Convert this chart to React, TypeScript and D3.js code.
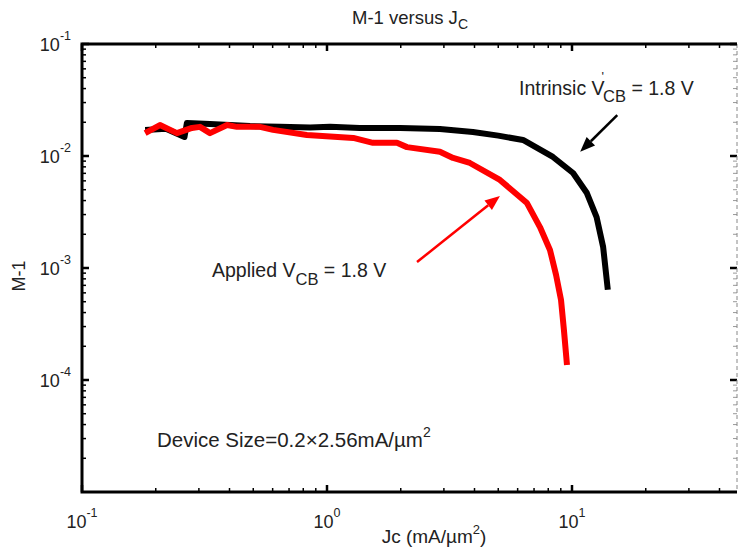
import React from "react";
import * as d3 from "d3";

// Intrinsic V'CB = 1.8 V : collector current density (mA/µm²) and M-1
const intrinsicJc = [0.181, 0.22, 0.262, 0.268, 0.333, 0.485, 0.643, 0.853, 1.03, 1.36, 1.99, 2.89, 3.94, 5.0, 6.31, 8.36, 10.1, 11.5, 12.6, 13.4, 14.0];
const intrinsicM = [0.0171, 0.0175, 0.0148, 0.0197, 0.0193, 0.0185, 0.0182, 0.018, 0.0182, 0.0178, 0.0178, 0.0174, 0.0164, 0.0152, 0.0139, 0.0098, 0.00705, 0.00467, 0.00285, 0.00154, 0.00064];

// Applied VCB = 1.8 V
const appliedJc = [0.181, 0.208, 0.244, 0.281, 0.303, 0.333, 0.391, 0.429, 0.533, 0.602, 0.828, 1.28, 1.54, 1.93, 2.12, 2.89, 3.27, 3.83, 5.08, 6.55, 7.4, 8.13, 8.61, 9.02, 9.27, 9.54];
const appliedM = [0.016, 0.0189, 0.016, 0.0178, 0.0182, 0.016, 0.0189, 0.0182, 0.0182, 0.0171, 0.0154, 0.0145, 0.0131, 0.0131, 0.012, 0.0109, 0.0096, 0.00866, 0.00611, 0.0038, 0.00232, 0.00145, 0.000866, 0.000518, 0.000279, 0.000136];

// axis decades (exponents of ten)
const xDecades = [-1, 0, 1];
const yDecades = [-1, -2, -3, -4];

// annotation arrows: [tailJc, tailM, headJc, headM]
const intrinsicArrow = [15.3, 0.0232, 10.8, 0.0109];
const appliedArrow = [2.33, 0.00113, 5.08, 0.0044];

const W = 738;
const H = 548;
const left = 82;
const right = 737;
const top = 44;
const bottom = 492;

const x = d3.scaleLog().domain([0.1, Math.pow(10, -1 + (right - left) / 245)]).range([left, right]);
const y = d3.scaleLog().domain([1e-5, 1e-1]).range([bottom, top]);

const font = "'Liberation Sans', Arial, sans-serif";

function minorTicks(domain: number[]) {
  const out: number[] = [];
  for (let k = -6; k <= 3; k++) {
    for (let m = 2; m <= 9; m++) {
      const v = m * Math.pow(10, k);
      if (v > domain[0] && v < domain[1]) out.push(v);
    }
  }
  return out;
}

function Arrow({ a, color }: { a: number[]; color: string }) {
  const x1 = x(a[0]), y1 = y(a[1]), x2 = x(a[2]), y2 = y(a[3]);
  const ang = Math.atan2(y2 - y1, x2 - x1);
  const len = 15, half = 6;
  const bx = x2 - len * Math.cos(ang), by = y2 - len * Math.sin(ang);
  const px = -Math.sin(ang) * half, py = Math.cos(ang) * half;
  return (
    <g>
      <line x1={x1} y1={y1} x2={bx} y2={by} stroke={color} strokeWidth={2.5} />
      <path d={`M${x2},${y2}L${bx + px},${by + py}L${bx - px},${by - py}Z`} fill={color} />
    </g>
  );
}

export default function App() {
  const line = d3
    .line<[number, number]>()
    .x((d) => x(d[0]))
    .y((d) => y(d[1]));
  const intrinsic = intrinsicJc.map((v, i) => [v, intrinsicM[i]] as [number, number]);
  const applied = appliedJc.map((v, i) => [v, appliedM[i]] as [number, number]);
  const xMinor = minorTicks(x.domain());
  const yMinor = minorTicks(y.domain());

  return (
    <svg
      width={W}
      height={H}
      style={{ position: "absolute", left: 0, top: 0, background: "#fff" }}
      fontFamily={font}
    >
      <rect width={W} height={H} fill="#fff" />
      {/* title */}
      <text x={410} y={24} textAnchor="middle" fontSize={18.5} fill="#222">
        M-1 versus J<tspan fontSize={14} dy={5}>C</tspan>
      </text>

      {/* minor ticks */}
      {xMinor.map((v) => (
        <g key={"xm" + v}>
          <line x1={x(v)} x2={x(v)} y1={bottom} y2={bottom - 4} stroke="#000" strokeWidth={1.5} />
          <line x1={x(v)} x2={x(v)} y1={top} y2={top + 4} stroke="#000" strokeWidth={1.5} />
        </g>
      ))}
      {yMinor.map((v) => (
        <g key={"ym" + v}>
          <line x1={left} x2={left + 4} y1={y(v)} y2={y(v)} stroke="#000" strokeWidth={1.5} />
          <line x1={right} x2={right - 4} y1={y(v)} y2={y(v)} stroke="#999" strokeWidth={1} />
        </g>
      ))}
      {/* major ticks */}
      {xDecades.map((e) => (
        <g key={"xM" + e}>
          <line x1={x(Math.pow(10, e))} x2={x(Math.pow(10, e))} y1={bottom} y2={bottom - 7} stroke="#000" strokeWidth={2.5} />
          <line x1={x(Math.pow(10, e))} x2={x(Math.pow(10, e))} y1={top} y2={top + 7} stroke="#000" strokeWidth={2.5} />
          <text x={x(Math.pow(10, e))} y={528} textAnchor="middle" fontSize={18} fill="#222">
            10<tspan fontSize={12.5} dy={-11}>{e}</tspan>
          </text>
        </g>
      ))}
      {yDecades.map((e) => (
        <g key={"yM" + e}>
          <line x1={left} x2={left + 7} y1={y(Math.pow(10, e))} y2={y(Math.pow(10, e))} stroke="#000" strokeWidth={2.5} />
          <line x1={right} x2={right - 7} y1={y(Math.pow(10, e))} y2={y(Math.pow(10, e))} stroke="#000" strokeWidth={2.5} />
          <text x={left - 11} y={y(Math.pow(10, e)) + 7} textAnchor="end" fontSize={18} fill="#222">
            10<tspan fontSize={12.5} dy={-11}>{e}</tspan>
          </text>
        </g>
      ))}

      {/* axes box */}
      <line x1={right} x2={right} y1={top} y2={bottom} stroke="#888" strokeWidth={1} strokeDasharray="4,3" />
      <path d={`M${right},${top}H${left}V${bottom}H${right}`} fill="none" stroke="#000" strokeWidth={3} />

      {/* curves */}
      <path d={line(intrinsic) ?? ""} fill="none" stroke="#000" strokeWidth={6} strokeLinejoin="round" />
      <path d={line(applied) ?? ""} fill="none" stroke="#ff0000" strokeWidth={6} strokeLinejoin="round" />

      <Arrow a={intrinsicArrow} color="#000" />
      <Arrow a={appliedArrow} color="#ff0000" />

      {/* annotations */}
      <text x={519} y={95} fontSize={19.5} fill="#222">
        Intrinsic V<tspan fontSize={13} dy={-14} dx={-3}>'</tspan>
        <tspan fontSize={16.5} dy={21} dx={-1}>CB</tspan>
        <tspan dy={-7}> = 1.8 V</tspan>
      </text>
      <text x={212} y={277} fontSize={19.5} fill="#222">
        Applied V<tspan fontSize={16.5} dy={8}>CB</tspan>
        <tspan dy={-8}> = 1.8 V</tspan>
      </text>
      <text x={157} y={447} fontSize={20.5} fill="#222">
        Device Size=0.2×2.56mA/µm<tspan fontSize={14} dy={-10}>2</tspan>
      </text>

      {/* axis labels */}
      <text x={434} y={543} textAnchor="middle" fontSize={19} fill="#222">
        Jc (mA/µm<tspan fontSize={13} dy={-9}>2</tspan>
        <tspan dy={9}>)</tspan>
      </text>
      <text transform="translate(25,276) rotate(-90)" textAnchor="middle" fontSize={18} fill="#222">
        M-1
      </text>
    </svg>
  );
}
